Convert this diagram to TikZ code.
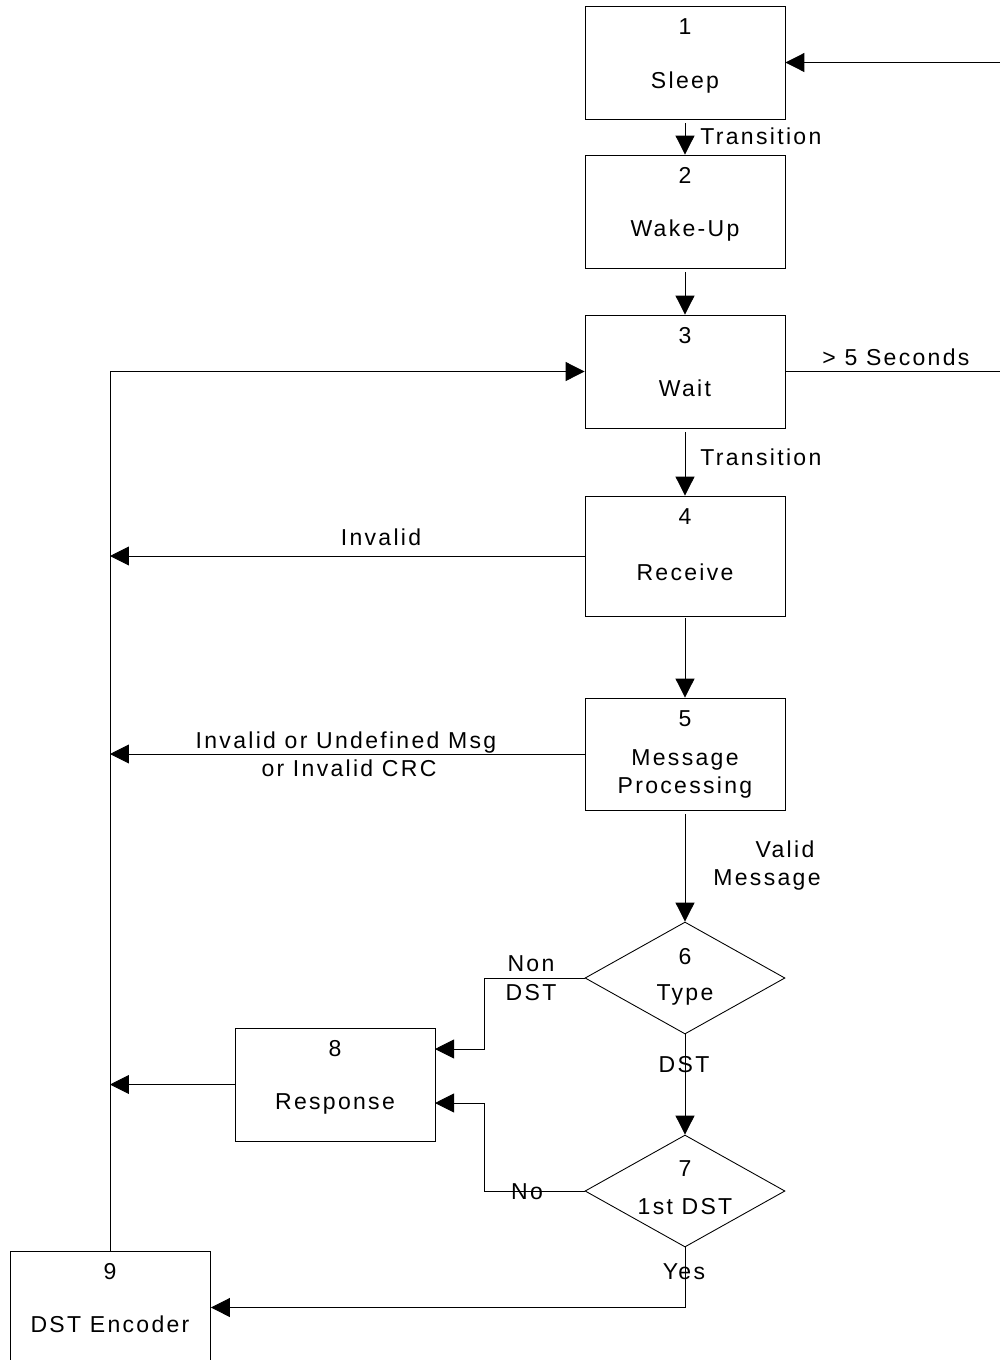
\documentclass[tikz,border=0pt]{standalone}
\usepackage{fontspec}
\setmainfont{Liberation Sans}[LetterSpace=10]
\usetikzlibrary{arrows.meta,shapes.geometric}

\begin{document}
\begin{tikzpicture}[x=0.02cm, y=-0.02cm, line width=0.5pt,
    font=\fontsize{13.1}{16}\selectfont,
    stbox/.style={draw, rectangle, minimum width=4cm, minimum height=2.26cm, inner sep=0pt},
    decide/.style={draw, diamond, aspect=1.786, minimum width=4cm, minimum height=2.24cm, inner sep=0pt},
    txt/.style={anchor=base, inner sep=0pt},
    flow/.style={-{Triangle[length=0.38cm, width=0.38cm]}}]
    \useasboundingbox (0,0) rectangle (1000,1360);
    \clip (0,0) rectangle (1000,1360);

    % states
    \node[stbox] (sleep) at (685,62.5) {};
    \node[stbox] (wake) at (685,211.5) {};
    \node[stbox] (wait) at (685,371.5) {};
    \node[stbox, minimum height=2.4cm] (recv) at (685,556) {};
    \node[stbox, minimum height=2.24cm] (msgproc) at (685,754) {};
    \node[decide] (type) at (685,978) {};
    \node[decide] (first) at (685,1191) {};
    \node[stbox] (resp) at (335,1084.5) {};
    \node[stbox] (enc) at (110.5,1307.5) {};

    % texts in the states
    \node[txt] (sleep-no) at (685,34) {1};
    \node[txt] (sleep-lb) at (685,88) {Sleep};
    \node[txt] (wake-no) at (685,183) {2};
    \node[txt] (wake-lb) at (685,236) {Wake-Up};
    \node[txt] (wait-no) at (685,343) {3};
    \node[txt] (wait-lb) at (685,396) {Wait};
    \node[txt] (recv-no) at (685,524) {4};
    \node[txt] (recv-lb) at (685,580) {Receive};
    \node[txt] (msgproc-no) at (685,726) {5};
    \node[txt] (msgproc-la) at (685,765) {Message};
    \node[txt] (msgproc-lb) at (685,793) {Processing};
    \node[txt] (type-no) at (685,964) {6};
    \node[txt] (type-lb) at (685,1000) {Type};
    \node[txt] (first-no) at (685,1176) {7};
    \node[txt] (first-lb) at (685,1214) {1st DST};
    \node[txt] (resp-no) at (335,1056) {8};
    \node[txt] (resp-lb) at (335,1109) {Response};
    \node[txt] (enc-no) at (110,1279) {9};
    \node[txt] (enc-lb) at (110,1332) {DST Encoder};

    % free ends
    \coordinate (loop) at (1010,371.5);
    \coordinate (bus-a) at (110,556);
    \coordinate (bus-b) at (110,754);
    \coordinate (bus-c) at (110,1084.5);
    \coordinate (resp-a) at (435,1049);
    \coordinate (resp-b) at (435,1103);

    % connectors
    \draw[flow, shorten <=0.08cm] (sleep.south) -- (wake.north);
    \draw[flow, shorten <=0.08cm] (wake.south) -- (wait.north);
    \draw[flow] (wait.east) -- (loop) |- (sleep.east);
    \draw[flow, shorten <=0.08cm] (wait.south) -- (recv.north);
    \draw[flow] (recv.west) -- (bus-a);
    \draw[flow, shorten <=0.04cm] (recv.south) -- (msgproc.north);
    \draw[flow] (msgproc.west) -- (bus-b);
    \draw[flow, shorten <=0.08cm] (msgproc.south) -- (type.north);
    \draw[flow] (type.west) -- ++(-100,0) |- (resp-a);
    \draw[flow] (type.south) -- (first.north);
    \draw[flow] (first.west) -- ++(-100,0) |- (resp-b);
    \draw[flow] (first.south) |- (enc.east);
    \draw[flow] (resp.west) -- (bus-c);
    \draw[flow] (enc.north) |- (wait.west);

    % connector labels
    \node[txt, anchor=base west] (tr-a) at (700,144) {Transition};
    \node[txt, anchor=base west] (secs) at (822,365) {> 5 Seconds};
    \node[txt, anchor=base west] (tr-b) at (700,465) {Transition};
    \node[txt] (inv) at (381,545) {Invalid};
    \node[txt] (inv-a) at (346,748) {Invalid or Undefined Msg};
    \node[txt] (inv-b) at (349,776) {or Invalid CRC};
    \node[txt] (valid-a) at (785,857) {Valid};
    \node[txt] (valid-b) at (767,885) {Message};
    \node[txt] (non-a) at (531,971) {Non};
    \node[txt] (non-b) at (531,1000) {DST};
    \node[txt] (dst) at (684,1072) {DST};
    \node[txt] (no) at (527,1199) {No};
    \node[txt] (yes) at (684,1279) {Yes};
\end{tikzpicture}
\end{document}
